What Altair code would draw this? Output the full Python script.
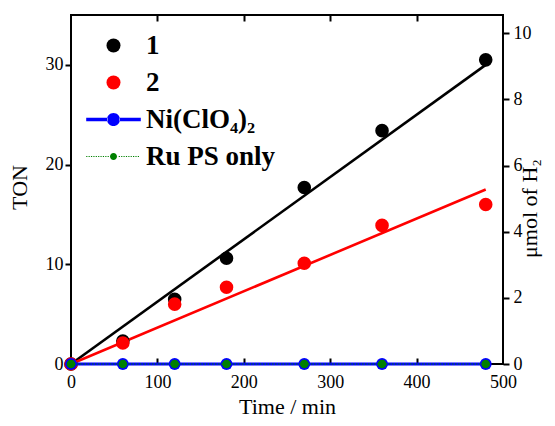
import altair as alt
import pandas as pd

# ---------------- data ----------------
time_pts = [0, 60, 120, 180, 270, 360, 480]
ton_1 = [0, 2.3, 6.5, 10.6, 17.7, 23.4, 30.5]
ton_2 = [0, 2.1, 6.0, 7.7, 10.1, 13.9, 16.0]
ton_ni = [0, 0, 0, 0, 0, 0, 0]
ton_ru = [0, 0, 0, 0, 0, 0, 0]
fit_time = [0, 480]
fit_1 = [0, 30.0]
fit_2 = [0, 17.5]
series_names = ["1", "2", "Ni(ClO₄)₂", "Ru PS only"]
series_colors = ["#000000", "#ff0000", "#0000ff", "#008000"]
x_labels = [0, 100, 200, 300, 400, 500]
x_inner_ticks = [100, 200, 300, 400]
ton_ticks = [0, 10, 20, 30]
umol_ticks = [0, 2, 4, 6, 8, 10]

FONT = "Liberation Serif, Times New Roman, serif"

pts = pd.DataFrame({
    "time": time_pts * 2,
    "ton": ton_1 + ton_2,
    "series": [series_names[0]] * len(time_pts) + [series_names[1]] * len(time_pts),
})
ni = pd.DataFrame({"time": time_pts, "ton": ton_ni, "series": series_names[2]})
ru = pd.DataFrame({"time": time_pts, "ton": ton_ru, "series": series_names[3]})
fit = pd.DataFrame({
    "time": fit_time * 2,
    "ton": fit_1 + fit_2,
    "series": [series_names[0]] * 2 + [series_names[1]] * 2,
})
allpts = pd.concat([pts, ni, ru], ignore_index=True)
umol_df = pd.DataFrame({"umol": umol_ticks})

# ---------------- legend symbol paths ----------------
def rect(x0, x1, h):
    return f"M{x0:.3f},{-h:.3f}H{x1:.3f}V{h:.3f}H{x0:.3f}Z"

def circ(r):
    return f"M{-r:.3f},0A{r:.3f},{r:.3f} 0 1,0 {r:.3f},0A{r:.3f},{r:.3f} 0 1,0 {-r:.3f},0Z"

ni_path = rect(-3.9, -0.85, 0.24) + rect(0.85, 3.9, 0.24) + circ(0.93)
ru_parts = []
x = -3.9
while x < -0.75:
    ru_parts.append(rect(x, x + 0.17, 0.08))
    x += 0.34
x = 0.75
while x < 3.8:
    ru_parts.append(rect(x, x + 0.17, 0.08))
    x += 0.34
ru_path = "".join(ru_parts) + circ(0.5)
shape_range = ["circle", "circle", ni_path, ru_path]

color_scale = alt.Scale(domain=series_names, range=series_colors)
x_scale = alt.Scale(domain=[0, 500], nice=False, zero=False)
y_scale = alt.Scale(domain=[0, 35], nice=False)

AX = dict(labelFont=FONT, labelFontSize=18, labelColor="black",
          titleFont=FONT, titleFontSize=22, titleFontWeight="normal", titleColor="black",
          tickColor="black", tickWidth=2, domain=False, grid=False, labelFlush=False,
          labelBound=False)

X = alt.X("time:Q", scale=x_scale,
          axis=alt.Axis(orient="bottom", values=x_labels, tickSize=0, labelPadding=9,
                        labelAlign="center", title="Time / min", titlePadding=5, **AX))
Y = alt.Y("ton:Q", scale=y_scale,
          axis=alt.Axis(orient="left", values=ton_ticks, tickSize=6, labelPadding=2,
                        title="TON", titlePadding=14, titleY=172, **AX))
C = alt.Color("series:N", scale=color_scale, legend=None)

LEG = dict(title=None, orient="none", legendX=29, legendY=17,
           symbolSize=196, symbolOpacity=1, symbolStrokeWidth=0,
           labelFont=FONT, labelFontSize=27, labelFontWeight="bold",
           labelColor="black", labelOffset=19, rowPadding=9,
           padding=0, labelLimit=300)

legend_layer = alt.Chart(allpts).mark_point(filled=True, opacity=0).encode(
    x=X, y=Y,
    color=alt.Color("series:N", scale=color_scale, legend=alt.Legend(**LEG)),
    shape=alt.Shape("series:N", scale=alt.Scale(domain=series_names, range=shape_range),
                    legend=alt.Legend(**LEG)),
)
fit_lines = alt.Chart(fit).mark_line(strokeWidth=2.6).encode(x=X, y=Y, color=C, detail="series:N")
pts_layer = alt.Chart(pts).mark_circle(size=185, opacity=1).encode(x=X, y=Y, color=C)
ni_line = alt.Chart(ni).mark_line(strokeWidth=3).encode(x=X, y=Y, color=C)
ni_pts = alt.Chart(ni).mark_circle(size=140, opacity=1).encode(x=X, y=Y, color=C)
ru_line = alt.Chart(ru).mark_line(strokeWidth=1, strokeDash=[1.5, 1.5]).encode(x=X, y=Y, color=C)
ru_pts = alt.Chart(ru).mark_circle(size=75, opacity=1).encode(x=X, y=Y, color=C)

main = alt.layer(legend_layer, fit_lines, pts_layer, ni_line, ni_pts, ru_line, ru_pts)

bottom_ticks = alt.Chart(pts).mark_point(opacity=0).encode(
    x=alt.X("time:Q", scale=x_scale,
            axis=alt.Axis(orient="bottom", offset=-6, tickSize=6, values=x_inner_ticks,
                          labels=False, domain=False, title=None, grid=False,
                          tickColor="black", tickWidth=2))
)
top_ticks = alt.Chart(pts).mark_point(opacity=0).encode(
    x=alt.X("time:Q", scale=x_scale,
            axis=alt.Axis(orient="top", offset=-6, tickSize=6, values=x_inner_ticks,
                          labels=False, domain=False, title=None, grid=False,
                          tickColor="black", tickWidth=2))
)
right_axis = alt.Chart(umol_df).mark_point(opacity=0).encode(
    y=alt.Y("umol:Q", scale=alt.Scale(domain=[0, 10.55], nice=False),
            axis=alt.Axis(orient="right", values=umol_ticks, tickSize=6, labelPadding=4,
                          title="μmol of H₂", titleAngle=270, titlePadding=10, titleY=193,
                          **AX))
)

chart = alt.layer(main, bottom_ticks, top_ticks, right_axis).resolve_scale(
    x="independent", y="independent"
).properties(
    width=432, height=349,
    background="white",
    autosize=alt.AutoSizeParams(type="none"),
    padding={"left": 63, "top": 7, "right": 44, "bottom": 54},
).configure_view(
    stroke="black", strokeWidth=2
)

chart.save("out.html", embed_options={"renderer": "svg", "actions": False})
